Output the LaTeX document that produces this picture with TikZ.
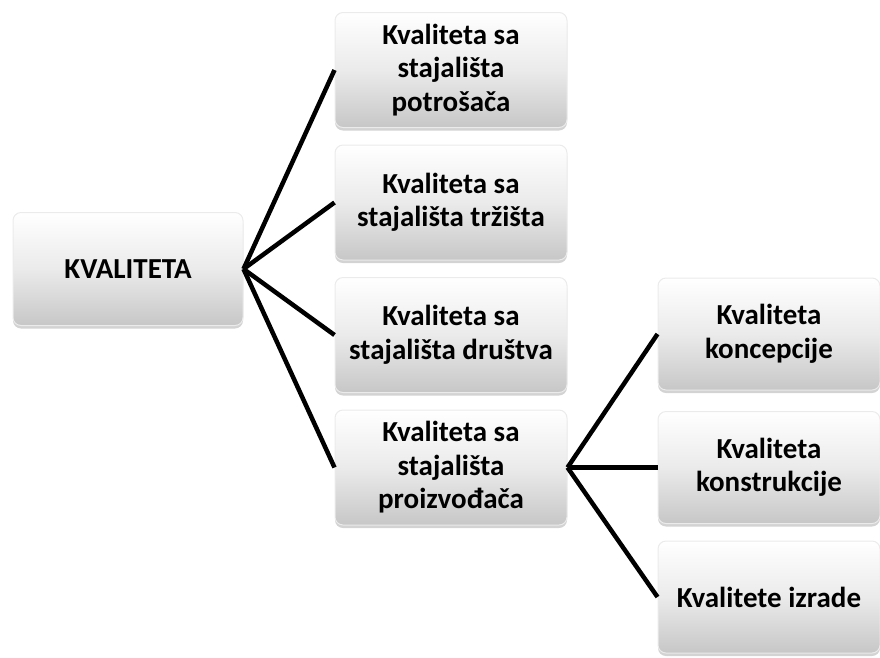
\documentclass[tikz,border=0pt]{standalone}
\usepackage{fontspec}
\setmainfont{Carlito}
\usetikzlibrary{shadows}
\begin{document}
\begin{tikzpicture}[x=1pt,y=-1pt,
  boxstyle/.style={draw=black!8, line width=1pt, rounded corners=8pt, top color=white, bottom color=black!22,
    middle color=black!8,
    drop shadow={opacity=0.35, shadow xshift=0pt, shadow yshift=-3pt},
    font=\fontsize{29}{33.5}\selectfont\bfseries, align=center, inner sep=2pt},
  midbox/.style={boxstyle, minimum width=232pt, minimum height=115pt},
  rightbox/.style={boxstyle, minimum width=222pt, minimum height=112pt},
  link/.style={line width=4.5pt, black}]
\useasboundingbox (0,0) rectangle (880,657);
\node[boxstyle, minimum width=230pt, minimum height=113pt] (kv) at (128,269) {KVALITETA};
\node[midbox] (m1) at (451,70) {Kvaliteta sa\\stajališta\\potrošača};
\node[midbox] (m2) at (451,202.5) {Kvaliteta sa\\stajališta tržišta};
\node[midbox] (m3) at (451,335) {Kvaliteta sa\\stajališta društva};
\node[midbox] (m4) at (451,467.5) {Kvaliteta sa\\stajališta\\proizvođača};
\node[rightbox] (r1) at (769,334) {Kvaliteta\\koncepcije};
\node[rightbox] (r2) at (769,467.5) {Kvaliteta\\konstrukcije};
\node[rightbox] (r3) at (769,597) {Kvalitete izrade};
\foreach \t in {m1,m2,m3,m4} \draw[link] (kv.east) -- (\t.west);
\foreach \t in {r1,r2,r3} \draw[link] (m4.east) -- (\t.west);
\end{tikzpicture}
\end{document}
